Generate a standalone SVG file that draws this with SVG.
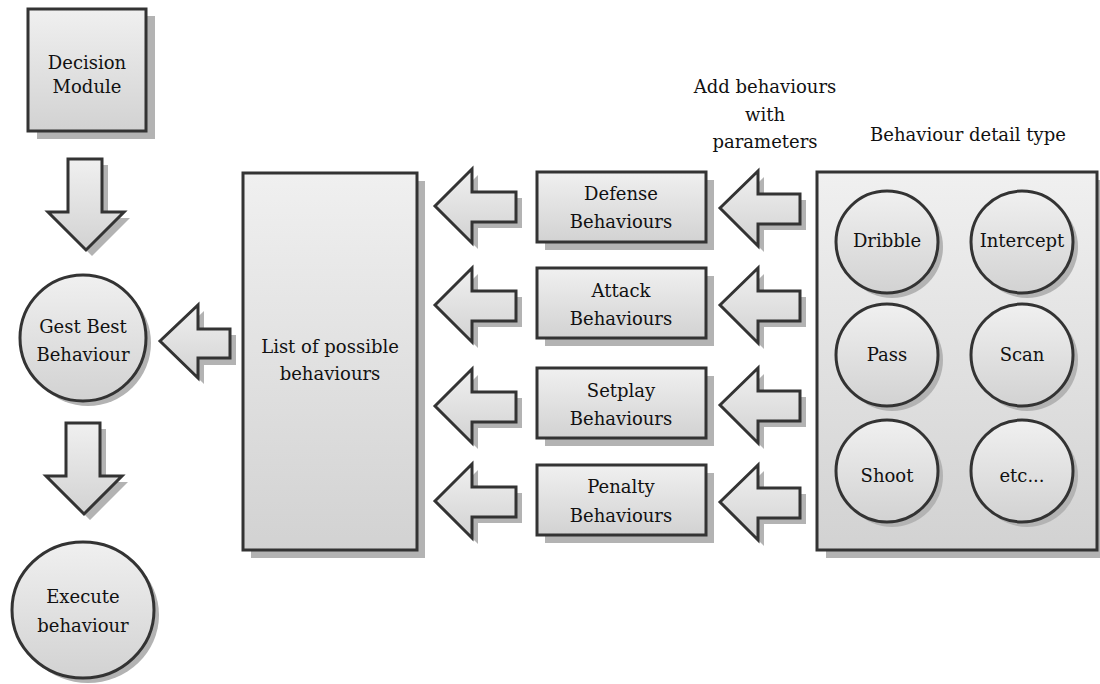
<svg xmlns="http://www.w3.org/2000/svg" width="1100" height="684" viewBox="0 0 1100 684">
<defs>
<linearGradient id="g" x1="0" y1="0" x2="0" y2="1"><stop offset="0" stop-color="#f0f0f0"/><stop offset="1" stop-color="#d2d2d2"/></linearGradient>
<style>
.sh{fill:#b3b3b3}
.n{fill:url(#g);stroke:#333;stroke-width:3}
.a{fill:url(#g);stroke:#333;stroke-width:3;stroke-linejoin:miter}
.t{font-family:"DejaVu Serif","Liberation Serif",serif;font-size:18px;fill:#111;text-anchor:middle}
</style>
<polygon id="la" points="0,0 37,-37 37,-14 81,-14 81,16 37,16 37,37"/>
<polygon id="ra" points="0,0 38,-37 38,-14 80,-14 80,16 38,16 38,38"/>
<polygon id="da" points="20,0 54,0 54,53 76,53 38,91 0,53 20,53"/>
</defs>
<rect width="1100" height="684" fill="#fff"/>

<g id="connectors">
<g transform="translate(48,159)"><use href="#da" class="sh" x="6" y="6"/><use href="#da" class="a"/></g>
<g transform="translate(46,423)"><use href="#da" class="sh" x="6" y="6"/><use href="#da" class="a"/></g>
<g transform="translate(160,341)"><polygon class="sh" points="6,6 44,-30 44,-6 76,-6 76,24 44,24 44,43"/><polygon class="a" points="0,0 38,-36 38,-12 70,-12 70,17 38,17 38,37"/></g>
<g transform="translate(435,206)"><use href="#la" class="sh" x="6" y="6"/><use href="#la" class="a"/></g>
<g transform="translate(435,305)"><use href="#la" class="sh" x="6" y="6"/><use href="#la" class="a"/></g>
<g transform="translate(435,406)"><use href="#la" class="sh" x="6" y="6"/><use href="#la" class="a"/></g>
<g transform="translate(435,501)"><use href="#la" class="sh" x="6" y="6"/><use href="#la" class="a"/></g>
<g transform="translate(720,208)"><use href="#ra" class="sh" x="6" y="6"/><use href="#ra" class="a"/></g>
<g transform="translate(720,305)"><use href="#ra" class="sh" x="6" y="6"/><use href="#ra" class="a"/></g>
<g transform="translate(720,405)"><use href="#ra" class="sh" x="6" y="6"/><use href="#ra" class="a"/></g>
<g transform="translate(720,502)"><use href="#ra" class="sh" x="6" y="6"/><use href="#ra" class="a"/></g>
</g>

<g id="decision">
<rect class="sh" x="37" y="16" width="118" height="123"/>
<rect class="n" x="28" y="9" width="118" height="122"/>
<text class="t" x="87" y="69">Decision</text>
<text class="t" x="87" y="93">Module</text>
</g>

<g id="getbest">
<circle class="sh" cx="88" cy="343" r="63"/>
<circle class="n" cx="83" cy="338" r="63"/>
<text class="t" x="83" y="333">Gest Best</text>
<text class="t" x="83" y="361">Behaviour</text>
</g>

<g id="execute">
<ellipse class="sh" cx="88" cy="615" rx="71" ry="68"/>
<ellipse class="n" cx="83" cy="610" rx="71" ry="68"/>
<text class="t" x="83" y="603">Execute</text>
<text class="t" x="83" y="632">behaviour</text>
</g>

<g id="list">
<rect class="sh" x="251" y="181" width="174" height="377"/>
<rect class="n" x="243" y="173" width="174" height="377"/>
<text class="t" x="330" y="353">List of possible</text>
<text class="t" x="330" y="380">behaviours</text>
</g>

<g id="defense">
<rect class="sh" x="545" y="180" width="169" height="70"/>
<rect class="n" x="537" y="172" width="169" height="70"/>
<text class="t" x="621" y="200">Defense</text>
<text class="t" x="621" y="228">Behaviours</text>
</g>
<g id="attack">
<rect class="sh" x="545" y="276" width="169" height="70"/>
<rect class="n" x="537" y="268" width="169" height="70"/>
<text class="t" x="621" y="297">Attack</text>
<text class="t" x="621" y="325">Behaviours</text>
</g>
<g id="setplay">
<rect class="sh" x="545" y="376" width="169" height="70"/>
<rect class="n" x="537" y="368" width="169" height="70"/>
<text class="t" x="621" y="397">Setplay</text>
<text class="t" x="621" y="425">Behaviours</text>
</g>
<g id="penalty">
<rect class="sh" x="545" y="473" width="169" height="70"/>
<rect class="n" x="537" y="465" width="169" height="70"/>
<text class="t" x="621" y="493">Penalty</text>
<text class="t" x="621" y="522">Behaviours</text>
</g>

<g id="addlabel">
<text class="t" x="765" y="93">Add behaviours</text>
<text class="t" x="765" y="121">with</text>
<text class="t" x="765" y="148">parameters</text>
</g>

<g id="detail">
<text class="t" x="968" y="141">Behaviour detail type</text>
<rect class="sh" x="826" y="180" width="274" height="378"/>
<rect class="n" x="817" y="172" width="280" height="378"/>
</g>
<g id="dribble"><circle class="sh" cx="892" cy="247" r="51"/><circle class="n" cx="887" cy="242" r="51"/><text class="t" x="887" y="247">Dribble</text></g>
<g id="intercept"><circle class="sh" cx="1027" cy="247" r="51"/><circle class="n" cx="1022" cy="242" r="51"/><text class="t" x="1022" y="247">Intercept</text></g>
<g id="pass"><circle class="sh" cx="892" cy="360" r="51"/><circle class="n" cx="887" cy="355" r="51"/><text class="t" x="887" y="361">Pass</text></g>
<g id="scan"><circle class="sh" cx="1027" cy="360" r="51"/><circle class="n" cx="1022" cy="355" r="51"/><text class="t" x="1022" y="361">Scan</text></g>
<g id="shoot"><circle class="sh" cx="892" cy="476" r="51"/><circle class="n" cx="887" cy="471" r="51"/><text class="t" x="887" y="482">Shoot</text></g>
<g id="etc"><circle class="sh" cx="1027" cy="476" r="51"/><circle class="n" cx="1022" cy="471" r="51"/><text class="t" x="1022" y="482">etc...</text></g>
</svg>
